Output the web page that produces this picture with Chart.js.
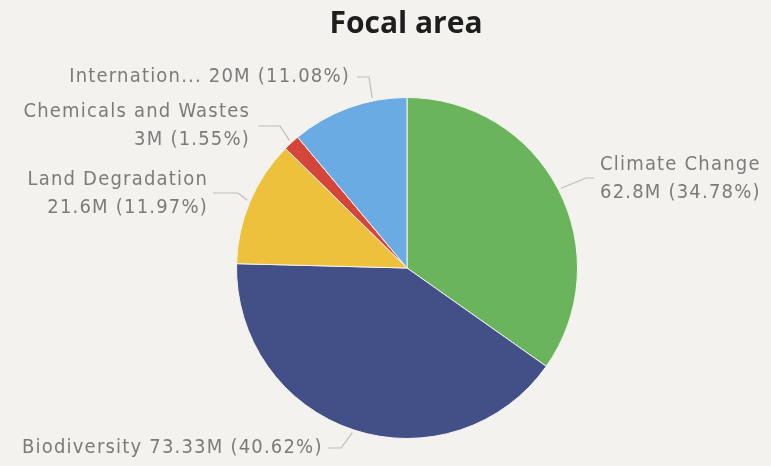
<!DOCTYPE html>
<html>
<head>
<meta charset="utf-8">
<script src="https://cdn.jsdelivr.net/npm/chart.js@4.4.0/dist/chart.umd.min.js"></script>
<style>
    html, body { margin: 0; padding: 0; background: #f4f2ee; }
    #wrap { width: 771px; height: 466px; }
</style>
</head>
<body>
<div id="wrap"><canvas id="pieChart"></canvas></div>
<script>
// Focal area data
const categories = ["Climate Change", "Biodiversity", "Land Degradation", "Chemicals and Wastes", "International Waters"];
const values = [62.8, 73.33, 21.6, 2.8, 20];
const valueLabels = ["62.8M", "73.33M", "21.6M", "3M", "20M"];
const percentLabels = ["34.78%", "40.62%", "11.97%", "1.55%", "11.08%"];

const colors = ["#6ab55b", "#435088", "#eec13d", "#d4463a", "#6aabe3"];

// label placement, leader start/elbow, and where along the slice the leader points
const labelSpots = [
    { x: 600, y: 165, align: "left", lines: [categories[0], valueLabels[0] + " (" + percentLabels[0] + ")"], start: [594, 178], elbow: [586, 178], frac: 0.5 },
    { x: 22, y: 448, align: "left", lines: [categories[1] + " " + valueLabels[1] + " (" + percentLabels[1] + ")"], start: [328, 448], elbow: [341, 448], frac: 0.5 },
    { x: 208, y: 180, align: "right", lines: [categories[2], valueLabels[2] + " (" + percentLabels[2] + ")"], start: [213, 193], elbow: [238, 193], frac: 0.5 },
    { x: 250, y: 112, align: "right", lines: [categories[3], valueLabels[3] + " (" + percentLabels[3] + ")"], start: [258, 126], elbow: [280, 126], frac: 0.5 },
    { x: 350, y: 77, align: "right", lines: ["Internation... " + valueLabels[4] + " (" + percentLabels[4] + ")"], start: [357, 77], elbow: [369, 77], frac: 0.71 }
];

const labelPlugin = {
    id: "sliceLabels",
    afterDraw(chart) {
        const ctx = chart.ctx;
        const arcs = chart.getDatasetMeta(0).data;

        ctx.save();

        // title
        ctx.fillStyle = "#1e1e1e";
        ctx.font = "bold 30px 'Open Sans'";
        ctx.textAlign = "center";
        ctx.textBaseline = "alphabetic";
        ctx.fillText("Focal area", 406, 33);

        ctx.textBaseline = "middle";
        ctx.font = "20px 'DejaVu Sans Condensed'";
        ctx.letterSpacing = "1.2px";
        ctx.fillStyle = "#7b7b7b";

        arcs.forEach((arc, i) => {
            const spot = labelSpots[i];
            const p = arc.getProps(["x", "y", "startAngle", "endAngle", "outerRadius"], true);
            const ang = p.startAngle + (p.endAngle - p.startAngle) * spot.frac;
            const ex = p.x + Math.cos(ang) * (p.outerRadius + 3);
            const ey = p.y + Math.sin(ang) * (p.outerRadius + 3);

            // leader line
            ctx.strokeStyle = "#bdbdbd";
            ctx.lineWidth = 1.2;
            ctx.beginPath();
            ctx.moveTo(spot.start[0], spot.start[1]);
            ctx.lineTo(spot.elbow[0], spot.elbow[1]);
            ctx.lineTo(ex, ey);
            ctx.stroke();

            ctx.textAlign = spot.align;
            spot.lines.forEach((line, k) => {
                ctx.fillText(line, spot.x, spot.y + k * 28);
            });
        });

        ctx.restore();
    }
};

new Chart(document.getElementById("pieChart"), {

    type: "pie",

    data: {
        labels: categories,
        datasets: [{
            data: values,
            backgroundColor: colors,
            borderColor: "#f4f2ee",
            borderWidth: 1
        }]
    },

    options: {
        responsive: true,
        maintainAspectRatio: false,
        animation: false,
        layout: {
            padding: { top: 97, bottom: 27, left: 236, right: 193 }
        },
        plugins: {
            legend: { display: false },
            tooltip: { enabled: false }
        }
    },

    plugins: [labelPlugin]

});
</script>
</body>
</html>
